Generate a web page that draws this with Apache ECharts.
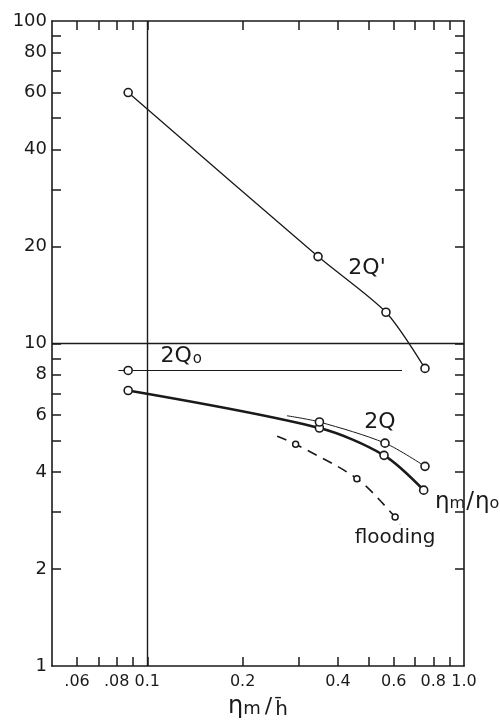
<!DOCTYPE html>
<html>
<head>
<meta charset="utf-8">
<script src="https://cdn.jsdelivr.net/npm/echarts@6/dist/echarts.min.js"></script>
<style>html,body{margin:0;padding:0;background:#fff}#c{width:500px;height:720px}</style>
</head>
<body>
<div id="c"></div>
<script>
// ---- data ----
const xTickValues = [0.06, 0.07, 0.08, 0.09, 0.1, 0.2, 0.3, 0.4, 0.5, 0.6, 0.7, 0.8, 0.9];
const xLabelValues = [0.06, 0.08, 0.1, 0.2, 0.4, 0.6, 0.8, 1.0];
const xLabelTexts = ['.06', '.08', '0.1', '0.2', '0.4', '0.6', '0.8', '1.0'];
const yTickValues = [2, 3, 4, 5, 6, 7, 8, 9, 10, 20, 30, 40, 50, 60, 70, 80, 90];
const yLabelValues = [1, 2, 4, 6, 8, 10, 20, 40, 60, 80, 100];

// 2Q' curve
const q2primeX = [0.087, 0.346, 0.567, 0.753];
const q2primeY = [60, 18.6, 12.5, 8.37];
// 2Q0 line (first & last are line ends without markers)
const q2zeroX = [0.081, 0.087, 0.637];
const q2zeroY = [8.25, 8.25, 8.25];
const q2zeroMarker = [false, true, false];
// eta_m/eta_o curve (thick)
const etaX = [0.087, 0.3495, 0.559, 0.746];
const etaY = [7.15, 5.47, 4.50, 3.51];
// 2Q curve (thin)
const q2X = [0.276, 0.3495, 0.563, 0.753];
const q2Y = [5.97, 5.71, 4.91, 4.16];
const q2Marker = [false, true, true, true];
// flooding (dashed)
const floodX = [0.257, 0.294, 0.459, 0.606, 0.628];
const floodY = [5.16, 4.87, 3.81, 2.90, 2.75];
const floodMarker = [false, true, true, true, false];

// reference lines
const refLineX = 0.1;
const refLineY = 10;

// ---- build ----
const FONT = 'DejaVu Sans';
const INK = '#1a1a1a';
function pts(xs, ys, marks) {
  return xs.map((x, i) => {
    const o = { value: [x, ys[i]] };
    if (marks && !marks[i]) o.symbol = 'none';
    return o;
  });
}
function lbl(xs, texts) {
  const map = {};
  xs.forEach((v, i) => map[String(v)] = texts[i]);
  return v => map[String(v)] !== undefined ? map[String(v)] : (map[String(+v.toPrecision(6))] || '');
}
const xFmt = lbl(xLabelValues, xLabelTexts);

const chart = echarts.init(document.getElementById('c'), null, { renderer: 'canvas' });

const tickStyle = { show: true, inside: true, length: 9, lineStyle: { color: INK, width: 1.5 } };

const baseX = {
  type: 'log', min: 0.05, max: 1.0, logBase: 10,
  axisLine: { show: true, onZero: false, lineStyle: { color: INK, width: 1.6 } },
  splitLine: { show: false }, minorTick: { show: false }, minorSplitLine: { show: false }
};
const baseY = {
  type: 'log', min: 1, max: 100, logBase: 10,
  axisLine: { show: true, onZero: false, lineStyle: { color: INK, width: 1.6 } },
  splitLine: { show: false }, minorTick: { show: false }, minorSplitLine: { show: false }
};

const sym = { symbol: 'circle', symbolSize: 8, itemStyle: { color: '#fff', borderColor: INK, borderWidth: 1.6 } };

const option = {
  backgroundColor: '#fff',
  animation: false,
  grid: { left: 52, right: 36, top: 21, bottom: 54, containLabel: false, outerBoundsMode: 'none' },
  xAxis: [
    Object.assign({}, baseX, {
      position: 'bottom',
      axisTick: Object.assign({}, tickStyle, { customValues: xTickValues }),
      axisLabel: {
        show: true, customValues: xLabelValues, formatter: xFmt, margin: 8,
        color: INK, fontFamily: FONT, fontSize: 16
      },
      name: '{e|η}{m|m}{s|/}{h|h̄}',
      nameLocation: 'middle', nameGap: 28,
      nameTextStyle: {
        color: INK, fontFamily: FONT,
        rich: {
          e: { fontSize: 24, fontFamily: FONT, color: INK },
          m: { fontSize: 18, fontFamily: FONT, color: INK, padding: [4, 0, 0, 0] },
          s: { fontSize: 22, fontFamily: FONT, color: INK, padding: [0, 3, 0, 4] },
          h: { fontSize: 20, fontFamily: FONT, color: INK, padding: [6, 0, 0, 0] }
        }
      }
    }),
    Object.assign({}, baseX, {
      position: 'top',
      axisTick: Object.assign({}, tickStyle, { customValues: xTickValues }),
      axisLabel: { show: false }
    })
  ],
  yAxis: [
    Object.assign({}, baseY, {
      position: 'left',
      axisTick: Object.assign({}, tickStyle, { customValues: yTickValues }),
      axisLabel: {
        show: true, customValues: yLabelValues, formatter: v => String(Math.round(v)), margin: 5,
        color: INK, fontFamily: FONT, fontSize: 18
      }
    }),
    Object.assign({}, baseY, {
      position: 'right',
      axisTick: Object.assign({}, tickStyle, { customValues: yTickValues }),
      axisLabel: { show: false }
    })
  ],
  series: [
    {
      name: "2Q'", type: 'line', xAxisIndex: 0, yAxisIndex: 0,
      data: pts(q2primeX, q2primeY), smooth: 0.25,
      lineStyle: { color: INK, width: 1.3 }, ...sym,
      markLine: {
        silent: true, symbol: 'none', label: { show: false },
        lineStyle: { color: INK, width: 1.4, type: 'solid' },
        data: [{ xAxis: refLineX }, { yAxis: refLineY }]
      },
      markPoint: {
        symbol: 'circle', symbolSize: 0, silent: true,
        label: { show: true, color: INK, fontFamily: FONT, fontSize: 22 },
        data: [{ coord: [0.494, 17.1], label: { formatter: "2Q'" } }]
      }
    },
    {
      name: '2Q0', type: 'line',
      data: pts(q2zeroX, q2zeroY, q2zeroMarker),
      lineStyle: { color: INK, width: 1.1 }, ...sym,
      markPoint: {
        symbol: 'circle', symbolSize: 0, silent: true,
        label: {
          show: true, formatter: '{a|2Q}{o|o}',
          rich: {
            a: { fontSize: 22, fontFamily: FONT, color: INK },
            o: { fontSize: 15, fontFamily: FONT, color: INK, padding: [6, 0, 0, 1] }
          }
        },
        data: [{ coord: [0.128, 9.12] }]
      }
    },
    {
      name: 'eta', type: 'line',
      data: pts(etaX, etaY), smooth: 0.3,
      lineStyle: { color: INK, width: 2.6 }, ...sym,
      markPoint: {
        symbol: 'circle', symbolSize: 0, silent: true,
        label: {
          show: true, position: 'right', distance: 0, formatter: '{e|η}{m|m}{s|/}{e|η}{m|o}',
          rich: {
            e: { fontSize: 23, fontFamily: FONT, color: INK },
            m: { fontSize: 16, fontFamily: FONT, color: INK, padding: [4, 0, 0, 0] },
            s: { fontSize: 23, fontFamily: FONT, color: INK, padding: [0, 1, 0, 1] }
          }
        },
        data: [{ coord: [0.81, 3.22] }]
      }
    },
    {
      name: '2Q', type: 'line',
      data: pts(q2X, q2Y, q2Marker), smooth: 0.3,
      lineStyle: { color: INK, width: 1.0 }, ...sym,
      markPoint: {
        symbol: 'circle', symbolSize: 0, silent: true,
        label: { show: true, color: INK, fontFamily: FONT, fontSize: 22, formatter: '2Q' },
        data: [{ coord: [0.543, 5.69] }]
      }
    },
    {
      name: 'flooding', type: 'line',
      data: pts(floodX, floodY, floodMarker), smooth: 0.3,
      lineStyle: { color: INK, width: 1.6, type: [10, 7] },
      symbol: 'circle', symbolSize: 6, itemStyle: { color: '#fff', borderColor: INK, borderWidth: 1.5 },
      markPoint: {
        symbol: 'circle', symbolSize: 0, silent: true,
        label: { show: true, color: INK, fontFamily: FONT, fontSize: 20, formatter: 'flooding' },
        data: [{ coord: [0.606, 2.49] }]
      }
    }
  ]
};
chart.setOption(option);
</script>
</body>
</html>
